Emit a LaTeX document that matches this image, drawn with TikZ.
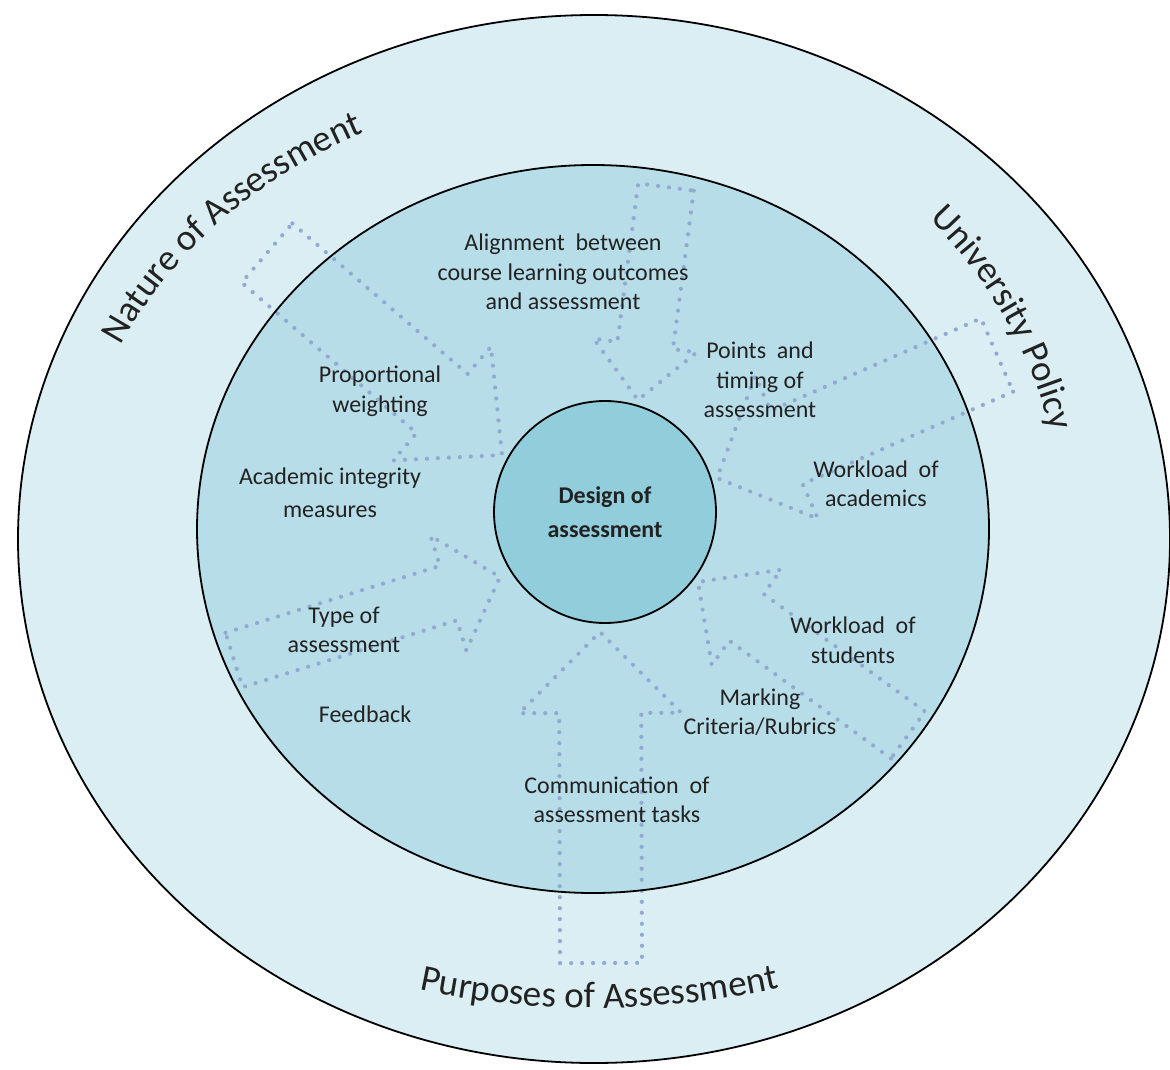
\documentclass[tikz,border=0pt]{standalone}
\usepackage{fontspec}
\setmainfont{Carlito}
\usetikzlibrary{calc,decorations.text}
\definecolor{ringout}{RGB}{218,238,243}
\definecolor{ringmid}{RGB}{183,221,232}
\definecolor{ringin}{RGB}{146,205,220}
\definecolor{dotblue}{RGB}{146,170,208}
\definecolor{txt}{RGB}{34,34,34}
\newcommand{\curvefont}{\fontsize{37}{44}\selectfont\color{txt}}
\newcommand{\dotarrow}[6]{%
  \coordinate (#1-t) at #2;
  \coordinate (#1-p) at #3;
  \coordinate (#1-n) at ($(#1-p)!#6!(#1-t)$);
  \draw[dotline] ($(#1-t)!#4!90:(#1-p)$) -- ($(#1-n)!#4!90:(#1-p)$) -- ($(#1-n)!#5!90:(#1-p)$) -- (#1-p) -- ($(#1-n)!#5!-90:(#1-p)$) -- ($(#1-n)!#4!-90:(#1-p)$) -- ($(#1-t)!#4!-90:(#1-p)$) -- cycle;}
\begin{document}
\begin{tikzpicture}[x=1pt,y=-1pt,
  dotline/.style={draw=dotblue, line width=4.2pt, line cap=round, line join=round, dash pattern=on 0pt off 11pt},
  lbl/.style={text=txt, font=\fontsize{24}{29.5}\selectfont, align=center, inner sep=0pt},
  ring/.style={line width=1.8pt, draw=black}]
\useasboundingbox (0,0) rectangle (1170,1070);
\fill[white] (0,0) rectangle (1170,1070);
% rings
\draw[ring, fill=ringout] (594,539) ellipse [x radius=576, y radius=524];
\fill[ringmid] (593,529) ellipse [x radius=396, y radius=364];
% dotted block arrows
\dotarrow{aNW}{(267,253)}{(502,455)}{39pt}{75pt}{79pt}
\dotarrow{aN}{(666,187)}{(638,400)}{28pt}{52pt}{55pt}
\dotarrow{aNE}{(997,355)}{(717,478)}{40pt}{78pt}{76pt}
\dotarrow{aSE}{(908,735)}{(698,582)}{29pt}{59pt}{60pt}
\dotarrow{aS}{(601,963)}{(600,632)}{41pt}{81pt}{81pt}
\dotarrow{aW}{(234,660)}{(500,577)}{28.5pt}{60pt}{54pt}
\draw[ring] (593,529) ellipse [x radius=396, y radius=364];
% core
\node[circle, ring, fill=ringin, minimum size=222pt, inner sep=0pt, align=center, text=txt,
      font=\bfseries\fontsize{24}{34}\selectfont] (core) at (605,512) {Design of\\assessment};
% labels
\node[lbl] (align) at (563,272) {Alignment\ \ between\\course learning outcomes\\and assessment};
\node[lbl] (prop) at (380,391) {Proportional\\weighting};
\node[lbl] (points) at (760,380) {Points\ \ and\\timing of\\assessment};
\node[lbl, font=\fontsize{24}{33}\selectfont] (integ) at (330,493) {Academic integrity\\measures};
\node[lbl] (wacad) at (876,484) {Workload\ \ of\\academics};
\node[lbl] (type) at (344,630) {Type of\\assessment};
\node[lbl] (wstud) at (853,640) {Workload\ \ of\\students};
\node[lbl] (feed) at (365,714) {Feedback};
\node[lbl] (mark) at (760,712) {Marking\\Criteria/Rubrics};
\node[lbl] (comm) at (617,800) {Communication\ \ of\\assessment tasks};
% curved labels
\path[decorate, decoration={text along path, text align=center, text={|\curvefont|Nature of Assessment}}]
  (594,539) ++(193:524 and 452) arc[start angle=193, end angle=255, x radius=524, y radius=452];
\path[decorate, decoration={text along path, text align=center, text={|\curvefont|University Policy}}]
  (594,539) ++(306:470 and 456) arc[start angle=306, end angle=356, x radius=470, y radius=456];
\path[decorate, decoration={text along path, text align=center, text={|\curvefont|Purposes of Assessment}}]
  (594,539) ++(118:636 and 469) arc[start angle=118, end angle=61, x radius=636, y radius=469];
\end{tikzpicture}
\end{document}
